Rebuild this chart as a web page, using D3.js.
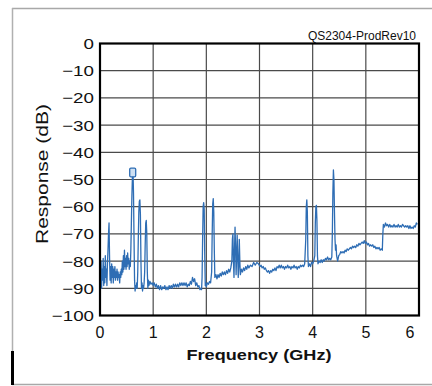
<!DOCTYPE html>
<html lang="en">
<head>
<meta charset="UTF-8">
<title>Response vs Frequency</title>
<script src="https://d3js.org/d3.v7.min.js"></script>
<style>
  body { margin: 0; background: #fff; }
  svg text { font-family: "Liberation Sans", Arial, sans-serif; fill: #111; }
</style>
</head>
<body>
<svg id="main" width="432" height="386"></svg>
<script>
// tick values
const freqTicks = [0, 1, 2, 3, 4, 5, 6];
const dbTicks = [0, -10, -20, -30, -40, -50, -60, -70, -80, -90, -100];

// measured trace, [GHz, dB]
const trace = [
  [0.00,-84],[0.01,-88],[0.02,-80],[0.03,-90],[0.04,-83],[0.05,-87],[0.06,-79],[0.07,-89],[0.08,-82],[0.09,-88],
  [0.10,-78],[0.11,-86],[0.12,-83],[0.13,-89],[0.14,-81],[0.15,-76],[0.16,-70],[0.17,-66],[0.18,-79],[0.19,-87],
  [0.20,-82],[0.21,-88],[0.22,-81],[0.23,-86],[0.24,-82],[0.25,-88],[0.26,-83],[0.27,-86],[0.28,-82],[0.29,-87],
  [0.30,-84],[0.31,-86],[0.32,-83],[0.33,-87],[0.34,-84],[0.35,-86],[0.36,-85],[0.37,-88],[0.38,-84],[0.39,-86],
  [0.40,-83],[0.41,-85],[0.42,-80],[0.43,-84],[0.44,-78],[0.45,-83],[0.46,-76],[0.47,-82],[0.48,-79],[0.49,-83],
  [0.50,-78],[0.51,-82],[0.52,-77],[0.53,-81],[0.54,-79],[0.55,-83],[0.56,-80],[0.57,-82],[0.58,-76],[0.59,-66],
  [0.60,-56],[0.61,-49],[0.62,-46.5],[0.63,-55],[0.64,-72],[0.65,-87],[0.66,-91],[0.67,-89],[0.68,-90],[0.69,-88],
  [0.70,-90],[0.71,-84],[0.72,-72],[0.73,-62],[0.74,-58],[0.75,-57.5],[0.76,-63],[0.77,-80],[0.78,-90],[0.79,-88],
  [0.80,-91],[0.81,-89],[0.82,-90],[0.83,-88],[0.84,-84],[0.85,-74],[0.86,-66],[0.87,-65],[0.88,-70],[0.89,-84],
  [0.90,-90],[0.91,-87],[0.92,-89],[0.94,-87.5],[0.96,-88.5],[0.98,-88],
  [1.00,-89],[1.02,-88],[1.04,-89.5],[1.06,-88.5],[1.08,-90],[1.10,-89],[1.12,-90.5],[1.14,-89],[1.16,-90.5],[1.18,-89.5],
  [1.20,-90],[1.22,-89],[1.24,-90.5],[1.26,-89.5],[1.28,-90.5],[1.30,-89],[1.32,-90],[1.34,-89],[1.36,-90],[1.38,-88.5],
  [1.40,-89.5],[1.42,-88.5],[1.44,-89.5],[1.46,-88.5],[1.48,-89.5],[1.50,-88],[1.52,-89],[1.54,-88],[1.56,-89],[1.58,-88],
  [1.60,-89],[1.62,-88],[1.64,-89.5],[1.66,-88.5],[1.68,-89],[1.70,-87.5],[1.72,-88.5],[1.74,-86],[1.76,-87.5],[1.78,-86.5],
  [1.80,-89],[1.82,-88],[1.84,-89.5],[1.86,-89],[1.88,-90.5],[1.90,-90],[1.91,-90.5],
  [1.92,-86],[1.93,-72],[1.94,-60],[1.95,-58.5],[1.96,-61],[1.97,-78],[1.98,-89],[1.99,-88],[2.00,-89.5],[2.02,-88],
  [2.04,-88.5],[2.06,-87.5],[2.08,-88],[2.10,-84],[2.11,-70],[2.12,-59],[2.13,-57],[2.14,-62],[2.15,-76],[2.16,-86],
  [2.18,-85],[2.20,-86.5],[2.22,-85],[2.24,-86],[2.26,-84.5],[2.28,-85.5],[2.30,-84],[2.32,-85],[2.34,-84],[2.36,-85],
  [2.38,-83.5],[2.40,-84.5],[2.42,-83],[2.44,-84],[2.46,-82.5],[2.48,-80],[2.49,-72],[2.50,-70],[2.51,-80],[2.52,-86],
  [2.53,-76],[2.54,-67.5],[2.55,-75],[2.56,-85],[2.57,-78],[2.58,-70.5],[2.59,-78],[2.60,-86],[2.61,-82],[2.62,-72],
  [2.63,-80],[2.64,-85],[2.66,-83],[2.68,-84],[2.70,-82.5],[2.72,-83.5],[2.74,-82],[2.76,-83],[2.78,-81.5],[2.80,-82.5],
  [2.83,-81.5],[2.86,-82],[2.89,-80.5],[2.92,-81.5],[2.95,-80.5],[2.98,-81],
  [3.01,-82],[3.03,-81.5],[3.05,-82.5],[3.07,-82],[3.09,-83],[3.11,-82.5],[3.13,-83.5],[3.15,-84],[3.17,-83.5],[3.19,-84.5],
  [3.21,-83.5],[3.23,-84],[3.25,-83],[3.27,-83.5],[3.29,-82.5],[3.31,-83.5],[3.33,-82],[3.35,-82.5],[3.37,-81.5],[3.39,-82.5],
  [3.41,-81.5],[3.43,-82.5],[3.45,-82],[3.47,-83],[3.49,-82],[3.51,-82.5],[3.53,-81.5],[3.55,-82.5],[3.57,-82],[3.59,-83],
  [3.61,-82],[3.63,-82.5],[3.65,-81.5],[3.67,-82.5],[3.69,-82],[3.71,-83],[3.73,-82],[3.75,-82.5],[3.77,-81.5],[3.79,-82],
  [3.81,-81.5],[3.83,-82],[3.85,-81],
  [3.87,-72],[3.88,-60],[3.89,-57.5],[3.90,-62],[3.91,-78],[3.92,-82],[3.94,-81],[3.96,-82],[3.98,-80.5],[4.00,-81],
  [4.02,-80],[4.04,-78],[4.05,-66],[4.06,-60],[4.07,-59.5],[4.08,-65],[4.09,-78],[4.10,-81],[4.12,-80],[4.14,-80.5],
  [4.16,-79.5],[4.18,-80.5],[4.20,-79.5],[4.22,-80],[4.24,-79],[4.26,-79.5],[4.28,-78.5],[4.30,-79.5],[4.32,-79],[4.34,-79.5],
  [4.36,-78.5],[4.37,-70],[4.38,-55],[4.39,-46.5],[4.40,-50],[4.41,-62],[4.42,-72],[4.43,-76],[4.44,-74],[4.45,-78],
  [4.47,-80],[4.49,-78],
  [4.51,-77.5],[4.53,-76.5],[4.55,-77],[4.57,-76.5],[4.59,-77],[4.61,-76],[4.63,-76.5],[4.65,-75.5],[4.67,-76],[4.69,-75.5],
  [4.71,-75],[4.73,-75.5],[4.75,-74.5],[4.77,-75],[4.79,-74.5],[4.81,-75],[4.83,-74],[4.85,-74.5],[4.87,-73.5],[4.89,-74],
  [4.91,-73.5],[4.93,-73],[4.95,-73.5],[4.97,-72.5],[4.99,-73.5],[5.01,-73],[5.03,-74],[5.05,-73.5],[5.07,-74.5],[5.09,-74],
  [5.11,-74.5],[5.13,-74],[5.15,-75],[5.17,-74.5],[5.19,-75.5],[5.21,-75],[5.23,-75.5],[5.25,-75],[5.27,-76],[5.29,-75.5],
  [5.31,-76],
  [5.32,-70],[5.33,-66.5],[5.35,-67.5],[5.37,-66],[5.39,-67],[5.41,-66.5],[5.43,-67.5],[5.45,-66.5],[5.47,-67.5],[5.49,-67],
  [5.51,-67.5],[5.53,-66.5],[5.55,-67.5],[5.57,-67],[5.59,-67.5],[5.61,-66.5],[5.63,-67.5],[5.65,-67],[5.67,-67.5],[5.69,-66.5],
  [5.71,-67],[5.73,-67.5],[5.75,-67],[5.77,-67.5],[5.79,-67],[5.81,-68],[5.83,-67],[5.85,-68],[5.87,-67.5],[5.89,-68],
  [5.91,-67],[5.93,-67.5],[5.95,-66],[5.97,-66.5]
];

// peak marker box [GHz, top dB, bottom dB]
const peakMarker = [0.615, -45.8, -49];

const svg = d3.select('#main');
const x = d3.scaleLinear().domain([0, 6]).range([100, 419]);
const y = d3.scaleLinear().domain([0, -100]).range([43.5, 315.5]);

// outer frame
svg.append('line').attr('x1', 12).attr('x2', 432).attr('y1', 8.5).attr('y2', 8.5)
  .attr('stroke', '#a8a8a8').attr('stroke-width', 1.5);
svg.append('line').attr('x1', 12).attr('x2', 432).attr('y1', 384.5).attr('y2', 384.5)
  .attr('stroke', '#a8a8a8').attr('stroke-width', 1.5);
svg.append('line').attr('x1', 12.5).attr('x2', 12.5).attr('y1', 8).attr('y2', 385)
  .attr('stroke', '#b0b0b0').attr('stroke-width', 1.5);
svg.append('line').attr('x1', 12.5).attr('x2', 12.5).attr('y1', 351).attr('y2', 385)
  .attr('stroke', '#000').attr('stroke-width', 3);

// grid
svg.append('g').selectAll('line').data(freqTicks.slice(1, -1)).join('line')
  .attr('x1', d => x(d)).attr('x2', d => x(d)).attr('y1', y(0)).attr('y2', y(-100))
  .attr('stroke', '#4a4a4a').attr('stroke-width', 1.2);
svg.append('g').selectAll('line').data(dbTicks.slice(1, -1)).join('line')
  .attr('x1', x(0)).attr('x2', x(6)).attr('y1', d => y(d)).attr('y2', d => y(d))
  .attr('stroke', '#4a4a4a').attr('stroke-width', 1.2);

// trace
const line = d3.line().x(d => x(d[0])).y(d => y(d[1]));
svg.append('path').datum(trace).attr('d', line)
  .attr('fill', 'none').attr('stroke', '#2e6db4').attr('stroke-width', 1.3)
  .attr('stroke-linejoin', 'round');

svg.append('rect')
  .attr('x', x(peakMarker[0]) - 3).attr('width', 6)
  .attr('y', y(peakMarker[1])).attr('height', y(peakMarker[2]) - y(peakMarker[1]))
  .attr('rx', 1.2).attr('fill', '#cfe0f2').attr('stroke', '#2e6db4').attr('stroke-width', 1.3);

// plot border
svg.append('rect').attr('x', x(0)).attr('y', y(0))
  .attr('width', x(6) - x(0)).attr('height', y(-100) - y(0))
  .attr('fill', 'none').attr('stroke', '#000').attr('stroke-width', 2.2);

// tick labels (the original glyphs are a bit wider than Arial)
svg.append('g').selectAll('text').data(dbTicks).join('text')
  .attr('x', 94).attr('y', d => y(d)).attr('dy', '0.36em')
  .attr('text-anchor', 'end').style('font-size', '15px')
  .text(d => d === 0 ? '0' : '\u2212' + Math.abs(d))
  .attr('textLength', function() { return this.getComputedTextLength() * 1.25; })
  .attr('lengthAdjust', 'spacingAndGlyphs');
svg.append('g').selectAll('text').data(freqTicks).join('text')
  .attr('x', d => x(d) + (d === 6 ? -9 : 0)).attr('y', 338)
  .attr('text-anchor', 'middle').style('font-size', '16px')
  .text(d => d);

// titles
svg.append('text').attr('transform', 'translate(48,174) rotate(-90)')
  .attr('text-anchor', 'middle').style('font-size', '16px')
  .attr('textLength', 140).attr('lengthAdjust', 'spacingAndGlyphs')
  .text('Response (dB)');
svg.append('text').attr('x', 259).attr('y', 360)
  .attr('text-anchor', 'middle').style('font-size', '15px').style('font-weight', 'bold')
  .attr('textLength', 145).attr('lengthAdjust', 'spacingAndGlyphs')
  .text('Frequency (GHz)');
svg.append('text').attr('x', 416).attr('y', 39.5)
  .attr('text-anchor', 'end').style('font-size', '12px')
  .text('QS2304-ProdRev10');
</script>
</body>
</html>
